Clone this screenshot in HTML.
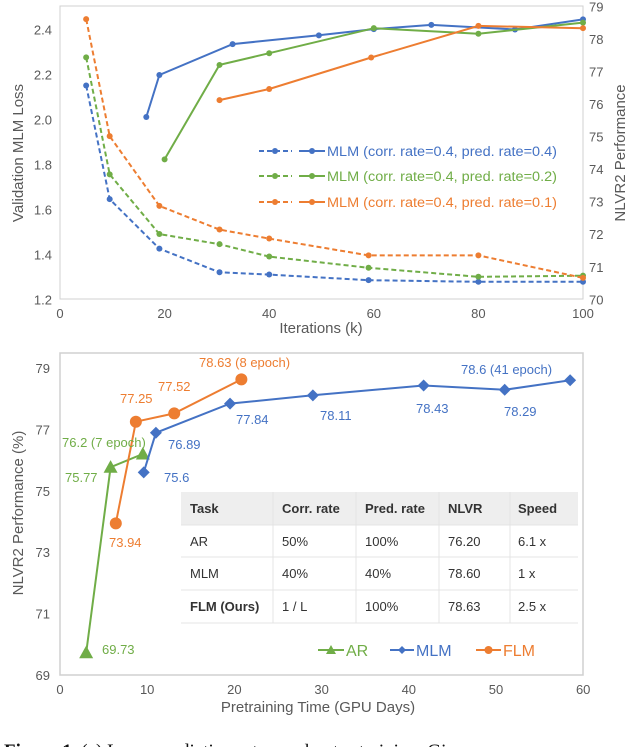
<!DOCTYPE html>
<html><head><meta charset="utf-8">
<style>
html,body{margin:0;padding:0;background:#fff;overflow:hidden;}
svg{display:block;font-family:"Liberation Sans",sans-serif;}
</style></head>
<body>
<svg id="fig" width="640" height="747" viewBox="0 0 640 747">
<rect x="0" y="0" width="640" height="747" fill="#fff"/>
<g id="topchart"></g>
<g id="botchart"></g>
<text x="4" y="757" font-family="Liberation Serif,serif" font-size="19" fill="#111"><tspan font-weight="bold">Figure 1.</tspan>  (c) Large prediction rate accelerates training.  Given</text>
</svg>
<script>
// ---------- top chart data ----------
const topXTicks = [0,20,40,60,80,100];
const topLeftTicks = [1.2,1.4,1.6,1.8,2.0,2.2,2.4];
const topRightTicks = [70,71,72,73,74,75,76,77,78,79];
const lossX = [5,9.5,19,30.5,40,59,80,100];
const lossBlue = [2.15,1.645,1.425,1.32,1.31,1.285,1.278,1.278];
const lossGreen = [2.275,1.755,1.49,1.445,1.39,1.34,1.3,1.305];
const lossOrange = [2.445,1.925,1.615,1.51,1.47,1.395,1.395,1.295];
const perfBlueX = [16.5,19,33,49.5,60,71,87,100];
const perfBlue = [75.6,76.89,77.84,78.11,78.3,78.43,78.29,78.6];
const perfGreenX = [20,30.5,40,60,80,100];
const perfGreen = [74.3,77.2,77.56,78.33,78.16,78.5];
const perfOrangeX = [30.5,40,59.5,80,100];
const perfOrange = [76.12,76.46,77.43,78.4,78.33];
const legendLabels = ["MLM (corr. rate=0.4, pred. rate=0.4)","MLM (corr. rate=0.4, pred. rate=0.2)","MLM (corr. rate=0.4, pred. rate=0.1)"];
// ---------- bottom chart data ----------
const botXTicks = [0,10,20,30,40,50,60];
const botYTicks = [69,71,73,75,77,79];
const arX = [3,5.8,9.5];
const arY = [69.73,75.77,76.2];
const mlmX = [9.6,11,19.5,29,41.7,51,58.5];
const mlmY = [75.6,76.89,77.84,78.11,78.43,78.29,78.6];
const flmX = [6.4,8.7,13.1,20.8];
const flmY = [73.94,77.25,77.52,78.63];

const BLUE="#4472c4", GREEN="#70ad47", ORANGE="#ed7d31", GRAY="#595959";
const NS="http://www.w3.org/2000/svg";
function mk(parent,tag,attrs,text){const e=document.createElementNS(NS,tag);for(const k in attrs)e.setAttribute(k,attrs[k]);if(text!==undefined)e.textContent=text;parent.appendChild(e);return e;}

const tX=v=>60+v*5.23, tYL=v=>299.3-(v-1.2)/0.2*45, tYR=v=>299.3-(v-70)*32.55;
const gTop=document.getElementById('topchart');
let f=mk(gTop,'rect',{x:60,y:6,width:523,height:293,fill:'none',stroke:'#d0d0d0','stroke-width':1});


topXTicks.forEach(v=>{const t=mk(gTop,'text',{x:tX(v),y:318,'font-size':13,fill:GRAY,'text-anchor':'middle'},String(v));

});
topLeftTicks.forEach(v=>{const t=mk(gTop,'text',{x:52,y:tYL(v)+5,'font-size':13,fill:GRAY,'text-anchor':'end'},v.toFixed(1));

});
topRightTicks.forEach(v=>{const t=mk(gTop,'text',{x:589,y:tYR(v)+5,'font-size':13,fill:GRAY},String(v));

});
let tt=mk(gTop,'text',{x:321,y:333,'font-size':15,fill:GRAY,'text-anchor':'middle'},'Iterations (k)');


tt=mk(gTop,'text',{x:0,y:0,'font-size':15,fill:GRAY,'text-anchor':'middle',transform:'translate(23,153) rotate(-90)'},'Validation MLM Loss');


tt=mk(gTop,'text',{x:0,y:0,'font-size':15,fill:GRAY,'text-anchor':'middle',transform:'translate(625,153) rotate(-90)'},'NLVR2 Performance');



function series(g,xs,ys,fx,fy,color,dash,name,marker,msize){
  const pts=xs.map((x,i)=>fx(x).toFixed(1)+','+fy(ys[i]).toFixed(1)).join(' ');
  const p=mk(g,'polyline',{points:pts,fill:'none',stroke:color,'stroke-width':2,'stroke-dasharray':dash||'none'});
  
  
  xs.forEach((x,i)=>{const cx=fx(x),cy=fy(ys[i]);let m;
    if(marker==='tri') m=mk(g,'polygon',{points:`${cx},${cy-msize} ${cx-msize},${cy+msize*0.8} ${cx+msize},${cy+msize*0.8}`,fill:color});
    else if(marker==='dia') m=mk(g,'polygon',{points:`${cx},${cy-msize} ${cx+msize},${cy} ${cx},${cy+msize} ${cx-msize},${cy}`,fill:color});
    else m=mk(g,'circle',{cx:cx,cy:cy,r:msize,fill:color});
    
    });
}
series(gTop,lossX,lossBlue,tX,tYL,BLUE,'5,3','loss-blue','c',3);
series(gTop,lossX,lossGreen,tX,tYL,GREEN,'5,3','loss-green','c',3);
series(gTop,lossX,lossOrange,tX,tYL,ORANGE,'5,3','loss-orange','c',3);
series(gTop,perfBlueX,perfBlue,tX,tYR,BLUE,null,'perf-blue','c',3);
series(gTop,perfGreenX,perfGreen,tX,tYR,GREEN,null,'perf-green','c',3);
series(gTop,perfOrangeX,perfOrange,tX,tYR,ORANGE,null,'perf-orange','c',3);
[BLUE,GREEN,ORANGE].forEach((c,i)=>{const y=[151,176,202][i];
  let l=mk(gTop,'line',{x1:259,y1:y,x2:292,y2:y,stroke:c,'stroke-width':2,'stroke-dasharray':'5,3'});
  
  
  let c1=mk(gTop,'circle',{cx:275,cy:y,r:3,fill:c});
  
  
  l=mk(gTop,'line',{x1:299,y1:y,x2:325,y2:y,stroke:c,'stroke-width':2});
  
  
  c1=mk(gTop,'circle',{cx:312,cy:y,r:3,fill:c});
  
  
  const t=mk(gTop,'text',{x:327,y:y+5,'font-size':13.5,fill:c,textLength:230,lengthAdjust:'spacingAndGlyphs'},legendLabels[i]);
  
  
});

const bX=v=>60+v*8.72, bY=v=>675-(v-69)*30.7;
const gBot=document.getElementById('botchart');
f=mk(gBot,'rect',{x:60,y:353,width:523,height:322,fill:'none',stroke:'#d0d0d0','stroke-width':1.5});


botXTicks.forEach(v=>{const t=mk(gBot,'text',{x:bX(v),y:694,'font-size':13,fill:GRAY,'text-anchor':'middle'},String(v));

});
botYTicks.forEach(v=>{const t=mk(gBot,'text',{x:50,y:bY(v)+5,'font-size':13,fill:GRAY,'text-anchor':'end'},String(v));

});
tt=mk(gBot,'text',{x:318,y:712,'font-size':15,fill:GRAY,'text-anchor':'middle'},'Pretraining Time (GPU Days)');


tt=mk(gBot,'text',{x:0,y:0,'font-size':15,fill:GRAY,'text-anchor':'middle',transform:'translate(23,513) rotate(-90)'},'NLVR2 Performance (%)');



const tbl=mk(gBot,'g',{});


mk(tbl,'rect',{x:181,y:492,width:397,height:131,fill:'#fff'});
mk(tbl,'rect',{x:181,y:492,width:397,height:33,fill:'#eeeeee'});
[525,557,590,623].forEach(y=>mk(tbl,'line',{x1:181,y1:y,x2:578,y2:y,stroke:'#e4e4e4','stroke-width':1}));
[273,356,439,510].forEach(x=>mk(tbl,'line',{x1:x,y1:492,x2:x,y2:623,stroke:'#e4e4e4','stroke-width':1}));
const rows=[["Task","Corr. rate","Pred. rate","NLVR","Speed"],["AR","50%","100%","76.20","6.1 x"],["MLM","40%","40%","78.60","1 x"],["FLM (Ours)","1 / L","100%","78.63","2.5 x"]];
const colX=[190,282,365,448,518], rowY=[513,546,578,611];
rows.forEach((r,i)=>r.forEach((c,j)=>{const t=mk(tbl,'text',{x:colX[j],y:rowY[i],'font-size':13,fill:'#333','font-weight':(i===0||(i===3&&j===0))?'bold':'normal'},c);

}));

series(gBot,arX,arY,bX,bY,GREEN,null,'ar','tri',7);
series(gBot,mlmX,mlmY,bX,bY,BLUE,null,'mlm','dia',6);
series(gBot,flmX,flmY,bX,bY,ORANGE,null,'flm','c',6);

const ann=[["78.63 (8 epoch)",199,367,ORANGE],["77.52",158,391,ORANGE],["77.25",120,403,ORANGE],["73.94",109,547,ORANGE],
["76.2 (7 epoch)",62,447,GREEN],["75.77",65,482,GREEN],["69.73",102,654,GREEN],
["78.6 (41 epoch)",461,374,BLUE],["78.29",504,416,BLUE],["78.43",416,413,BLUE],["78.11",320,420,BLUE],["77.84",236,424,BLUE],["76.89",168,449,BLUE],["75.6",164,482,BLUE]];
ann.forEach(a=>{const t=mk(gBot,'text',{x:a[1],y:a[2],'font-size':13,fill:a[3]},a[0]);

});

const leg=[["AR",GREEN,318,346,'tri'],["MLM",BLUE,390,416,'dia'],["FLM",ORANGE,476,503,'c']];
leg.forEach(l=>{const y=650;
  const ln=mk(gBot,'line',{x1:l[2],y1:y,x2:l[3]-2,y2:y,stroke:l[1],'stroke-width':2});
  
  
  const cx=(l[2]+l[3]-2)/2;let m;
  if(l[4]==='tri') m=mk(gBot,'polygon',{points:`${cx},${y-5} ${cx-5},${y+4} ${cx+5},${y+4}`,fill:l[1]});
  else if(l[4]==='dia') m=mk(gBot,'polygon',{points:`${cx},${y-4} ${cx+4},${y} ${cx},${y+4} ${cx-4},${y}`,fill:l[1]});
  else m=mk(gBot,'circle',{cx:cx,cy:y,r:4,fill:l[1]});
  
  
  const t=mk(gBot,'text',{x:l[3],y:y+6,'font-size':16,fill:l[1]},l[0]);
  
  
});
</script>
</body></html>
